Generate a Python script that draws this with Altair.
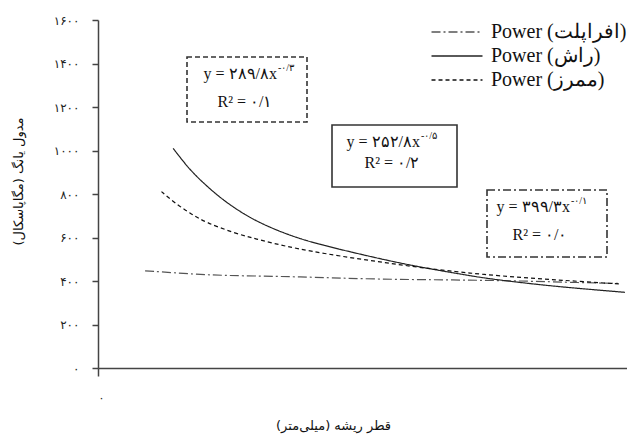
import altair as alt
import pandas as pd

# Fitted curves of Young's modulus against root diameter, one per species
series_names = ["Power (افراپلت)", "Power (راش)", "Power (ممرز)"]

afra_x = [0.89, 1.42, 2.05, 2.68, 3.76, 5.20, 6.78, 7.91, 9.17, 9.87]
afra_y = [447, 438, 428, 424, 420, 408, 405, 401, 392, 389]

rash_x = [1.42, 1.61, 1.80, 2.12, 2.43, 2.87, 3.31, 3.76, 4.26, 4.89, 5.52,
          6.15, 6.78, 7.28, 7.91, 8.54, 9.17, 9.96]
rash_y = [1010, 950, 895, 822, 760, 690, 640, 598, 564, 527, 492,
          461, 435, 414, 395, 378, 364, 348]

mamraz_x = [1.20, 1.42, 1.74, 2.05, 2.56, 3.00, 3.44, 3.79, 4.26, 4.89, 5.52,
            6.15, 6.78, 7.28, 7.91, 8.54, 9.17, 9.87]
mamraz_y = [811, 765, 710, 668, 622, 592, 566, 548, 527, 503, 481,
            460, 443, 430, 418, 407, 397, 386]

# Power-law fits (y = a * x^b) with their R², written in Persian digits
fit_coef = ["۳۹۹/۳", "۲۵۲/۸", "۲۸۹/۸"]
fit_exp = ["-۰/۱", "-۰/۵", "-۰/۳"]
fit_r2 = ["۰/۰", "۰/۲", "۰/۱"]

y_ticks = [0, 200, 400, 600, 800, 1000, 1200, 1400, 1600]
y_tick_labels = ["۰", "۲۰۰", "۴۰۰", "۶۰۰", "۸۰۰", "۱۰۰۰", "۱۲۰۰", "۱۴۰۰", "۱۶۰۰"]
x_ticks = [0]
x_tick_labels = ["۰"]

RLM = "\u200f"
y_title = "مدول یانگ (مگاپاسکال)" + RLM
x_title = "قطر ریشه (میلی\u200cمتر)" + RLM

rows = []
for name, xs, ys in [(series_names[0], afra_x, afra_y),
                     (series_names[1], rash_x, rash_y),
                     (series_names[2], mamraz_x, mamraz_y)]:
    rows += [{"series": name, "x": a, "y": b} for a, b in zip(xs, ys)]
df = pd.DataFrame(rows)


def label_expr(ticks, labels):
    expr = "''"
    for t, l in zip(ticks, labels):
        expr = f"datum.value == {t} ? '{l}' : ({expr})"
    return expr


SERIF = "Liberation Serif"
SANS = "DejaVu Sans"

series_legend = alt.Legend(title=None, orient="none", legendX=349, legendY=2,
                           symbolType="M-5,0L5,0", symbolSize=104,
                           symbolStrokeWidth=1.3, symbolFillColor="transparent",
                           labelFont=SERIF, labelFontSize=20, labelColor="#111",
                           labelOffset=24, labelLimit=300, rowPadding=4, padding=0)

lines = alt.Chart(df).mark_line(strokeWidth=1.2, interpolate="basis").encode(
    x=alt.X("x:Q", scale=alt.Scale(domain=[0, 10], nice=False),
            axis=alt.Axis(values=x_ticks, labelExpr=label_expr(x_ticks, x_tick_labels),
                          title=x_title, titleFont=SANS, titleFontSize=13,
                          titleFontWeight="normal", titleColor="#111",
                          titleX=235, titleY=57, titleBaseline="middle",
                          labelFont=SANS, labelFontSize=11, labelColor="#222",
                          tickSize=8, labelPadding=16, grid=False,
                          domainColor="#444", domainWidth=1.5,
                          tickColor="#444", tickWidth=1.5)),
    y=alt.Y("y:Q", scale=alt.Scale(domain=[0, 1600], nice=False),
            axis=alt.Axis(values=y_ticks, labelExpr=label_expr(y_ticks, y_tick_labels),
                          title=y_title, titleFont=SANS, titleFontSize=13,
                          titleFontWeight="normal", titleColor="#111",
                          titleX=-80, titleY=161, titleBaseline="middle",
                          labelFont=SANS, labelFontSize=12, labelColor="#222",
                          tickSize=6, labelPadding=13, grid=False,
                          domainColor="#444", domainWidth=1.5,
                          tickColor="#444", tickWidth=1.5)),
    strokeDash=alt.StrokeDash(
        "series:N",
        scale=alt.Scale(domain=series_names, range=[[9, 3, 2, 3], [1, 0], [4, 3]]),
        legend=series_legend,
    ),
    color=alt.Color("series:N",
                    scale=alt.Scale(domain=series_names, range=["#555", "#222", "#111"]),
                    legend=series_legend),
)

blank = alt.Data(values=[{}])


def box(x1, x2, y1, y2, **style):
    return alt.Chart(blank).mark_rect(fill="white", stroke="#333", strokeWidth=1.6, **style).encode(
        x=alt.value(x1), x2=alt.value(x2), y=alt.value(y1), y2=alt.value(y2))


def text(x, y, txt, size=16, align="center"):
    return alt.Chart(blank).mark_text(text=txt, font=SERIF, fontSize=size, align=align,
                                      baseline="middle", color="#111").encode(
        x=alt.value(x), y=alt.value(y))


def equation(i, right, y_eq, cx_r2, y_r2):
    return [
        text(right, y_eq, f"y = {fit_coef[i]}x", align="right"),
        text(right + 1, y_eq - 6, fit_exp[i], size=10, align="left"),
        text(cx_r2, y_r2, f"R² = {fit_r2[i]}"),
    ]


layers = [lines,
          box(89, 209, 37, 102, strokeDash=[5, 3]),
          box(234, 359, 105, 167),
          box(389, 509, 170, 237, strokeDash=[8, 3, 2, 3])]
layers += equation(2, 179, 54, 147, 82)
layers += equation(1, 322, 122, 294, 143)
layers += equation(0, 472, 187, 442, 215)

chart = alt.layer(*layers).properties(
    width=529, height=348,
    autosize=alt.AutoSizeParams(type="none"),
    padding={"left": 98, "top": 20, "right": 0, "bottom": 69},
    background="white",
).configure_view(stroke=None)

chart.save("out.html", embed_options={"renderer": "svg", "actions": False})
